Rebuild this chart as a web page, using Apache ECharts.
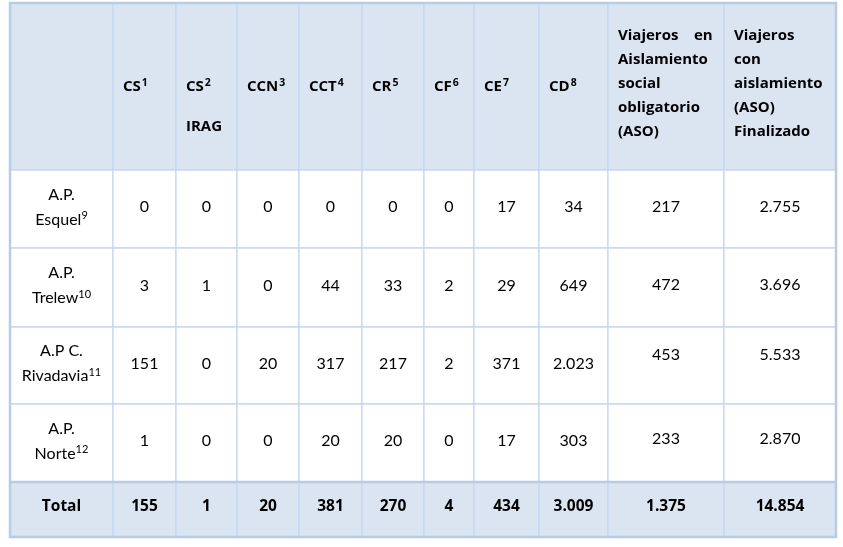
<!DOCTYPE html>
<html>
<head>
<meta charset="utf-8">
<script src="https://cdn.jsdelivr.net/npm/echarts@6/dist/echarts.min.js"></script>
<style>
html,body{margin:0;padding:0;background:#fff;}
#chart{width:843px;height:547px;}
</style>
</head>
<body>
<div id="chart"></div>
<script>
// ---- data ----
const columns = ['CS¹', 'CS²\nIRAG', 'CCN³', 'CCT⁴', 'CR⁵', 'CF⁶', 'CE⁷', 'CD⁸',
  'Viajeros    en\nAislamiento\nsocial\nobligatorio\n(ASO)',
  'Viajeros\ncon\naislamiento\n(ASO)\nFinalizado'];
const rowLabels = ['A.P.\nEsquel⁹', 'A.P.\nTrelew¹⁰', 'A.P C.\nRivadavia¹¹', 'A.P.\nNorte¹²', 'Total'];
const esquel    = [0, 0, 0, 0, 0, 0, 17, 34, 217, 2755];
const trelew    = [3, 1, 0, 44, 33, 2, 29, 649, 472, 3696];
const rivadavia = [151, 0, 20, 317, 217, 2, 371, 2023, 453, 5533];
const norte     = [1, 0, 0, 20, 20, 0, 17, 303, 233, 2870];
const total     = [155, 1, 20, 381, 270, 4, 434, 3009, 1375, 14854];
const bodyRows = [esquel, trelew, rivadavia, norte, total];

// ---- layout (not data) ----
const colWidths = [103, 63, 61, 62, 63, 62, 50, 65, 69, 116, 112];
const rowHeights = [167, 78, 79, 77, 78, 55];
const headerDy = [0, 0, 20, 0, 0, 0, 0, 0, 0, -3, -3];
const headerLineHeight = [24, 24, 40, 24, 24, 24, 24, 24, 24, 24, 24];
// vertical text nudges per body row (last two columns sit higher in row 3)
const lateColsDy = [0, -1, -9, -2, 0];

const colEdges = [0]; colWidths.forEach(w => colEdges.push(colEdges[colEdges.length - 1] + w));
const rowEdges = [0]; rowHeights.forEach(h => rowEdges.push(rowEdges[rowEdges.length - 1] + h));
const W = colEdges[colEdges.length - 1], H = rowEdges[rowEdges.length - 1];

const BODY_FONT = 'Lato, "Noto Sans", sans-serif';
const BOLD_FONT = '"Open Sans", Lato, sans-serif';
const HEAD_BG = '#dbe5f1', LINE = '#c6d9f1', FRAME = '#b8cce4', TXT = '#000';

const SUP = { '⁰': '0', '¹': '1', '²': '2', '³': '3', '⁴': '4', '⁵': '5', '⁶': '6', '⁷': '7', '⁸': '8', '⁹': '9' };
function toRich(s) {
  return s.replace(/[⁰¹²³⁴⁵⁶⁷⁸⁹]+/g, m => '{s|' + m.split('').map(ch => SUP[ch]).join('') + '}');
}
function fmt(v) { return String(v).replace(/\B(?=(\d{3})+(?!\d))/g, '.'); }

const cells = [];
for (let r = 0; r < rowHeights.length; r++) {
  for (let c = 0; c < colWidths.length; c++) cells.push([c, r]);
}

function cellText(c, r) {
  if (r === 0) return c === 0 ? '' : columns[c - 1];
  if (c === 0) return rowLabels[r - 1];
  return fmt(bodyRows[r - 1][c - 1]);
}

const chart = echarts.init(document.getElementById('chart'), null, { renderer: 'canvas' });
chart.setOption({
  animation: false,
  grid: { left: 10, right: 7, top: 3, bottom: 10, show: false },
  xAxis: { type: 'value', min: 0, max: W, show: false },
  yAxis: { type: 'value', min: 0, max: H, inverse: true, show: false },
  series: [{
    type: 'custom',
    coordinateSystem: 'cartesian2d',
    data: cells,
    renderItem: function (params, api) {
      const c = api.value(0), r = api.value(1);
      const p0 = api.coord([colEdges[c], rowEdges[r]]);
      const p1 = api.coord([colEdges[c + 1], rowEdges[r + 1]]);
      const isHead = r === 0, isTotal = r === rowHeights.length - 1;
      const txt = cellText(c, r);
      const children = [{
        type: 'rect',
        shape: { x: p0[0], y: p0[1], width: p1[0] - p0[0], height: p1[1] - p0[1] },
        style: { fill: (isHead || isTotal) ? HEAD_BG : '#fff', stroke: LINE, lineWidth: 1.3 }
      }];
      if (txt) {
        let style;
        if (isHead) {
          const lh = headerLineHeight[c];
          style = {
            text: toRich(txt), x: p0[0] + 10, y: (p0[1] + p1[1]) / 2 + headerDy[c],
            align: 'left', verticalAlign: 'middle',
            fontFamily: BOLD_FONT, fontSize: 15, fontWeight: 'bold',
            lineHeight: lh, fill: TXT,
            rich: { s: { fontFamily: BOLD_FONT, fontSize: 10.5, fontWeight: 'bold', padding: [(lh - 24) / 2 + 3, 0, 0, 1], verticalAlign: 'top', fill: TXT } }
          };
        } else if (isTotal) {
          style = {
            text: txt, x: (p0[0] + p1[0]) / 2, y: (p0[1] + p1[1]) / 2 - 3,
            align: 'center', verticalAlign: 'middle',
            fontFamily: BOLD_FONT, fontSize: 15.5, fontWeight: 'bold',
            lineHeight: 25, fill: TXT
          };
        } else {
          const dy = c >= 9 ? lateColsDy[r - 1] : 0;
          style = {
            text: toRich(txt), x: (p0[0] + p1[0]) / 2, y: (p0[1] + p1[1]) / 2 - 2 + dy,
            align: 'center', verticalAlign: 'middle',
            fontFamily: BODY_FONT, fontSize: 16, fontWeight: 'normal',
            lineHeight: 25, fill: TXT,
            rich: { s: { fontFamily: BODY_FONT, fontSize: 11, padding: [3, 0, 0, 0], verticalAlign: 'top', fill: TXT } }
          };
        }
        children.push({ type: 'text', style: style });
      }
      return { type: 'group', children: children };
    }
  }, {
    type: 'custom',
    coordinateSystem: 'cartesian2d',
    z: 10,
    data: [[0, 0]],
    renderItem: function (params, api) {
      const a = api.coord([0, 0]), b = api.coord([W, H]);
      const t = api.coord([0, rowEdges[rowEdges.length - 2]]);
      return {
        type: 'group',
        children: [{
          type: 'rect',
          shape: { x: a[0], y: a[1], width: b[0] - a[0], height: b[1] - a[1] },
          style: { fill: 'none', stroke: FRAME, lineWidth: 2.5 }
        }, {
          type: 'line',
          shape: { x1: a[0], y1: t[1], x2: b[0], y2: t[1] },
          style: { stroke: FRAME, lineWidth: 2.5 }
        }]
      };
    }
  }]
});
</script>
</body>
</html>
